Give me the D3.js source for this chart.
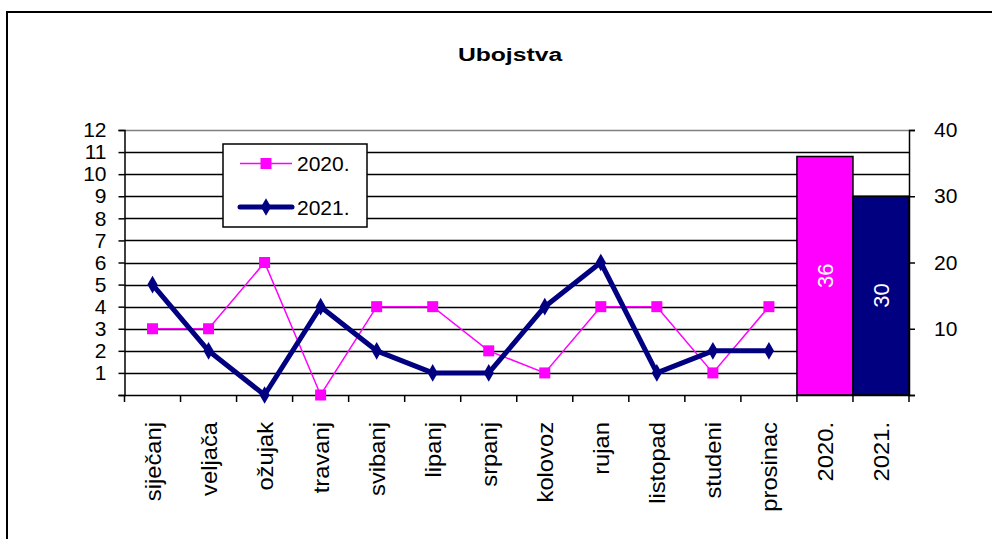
<!DOCTYPE html>
<html><head><meta charset="utf-8">
<script src="https://cdn.jsdelivr.net/npm/d3@7"></script>
<style>body{margin:0;background:#fff}svg{display:block}text{font-family:"Liberation Sans",Arial,sans-serif}</style>
</head><body>
<script>
const months = ["siječanj","veljača","ožujak","travanj","svibanj","lipanj","srpanj","kolovoz","rujan","listopad","studeni","prosinac"];
const yearCats = ["2020.","2021."];
const series2020 = [3,3,6,0,4,4,2,1,4,4,1,4];
const series2021 = [5,2,0,4,2,1,1,4,6,1,2,2];
const totals = [36,30];
const leftTicks = [1,2,3,4,5,6,7,8,9,10,11,12];
const rightTicks = [10,20,30,40];
const colors = {"2020.":"#FF00FF","2021.":"#000080"};

const W=992,H=539;
const svg=d3.select("body").append("svg").attr("width",W).attr("height",H);
svg.append("rect").attr("x",7).attr("y",12).attr("width",1000).attr("height",600)
  .attr("fill","#fff").attr("stroke","#000").attr("stroke-width",2);

svg.append("text").attr("transform","translate(510,61) scale(1.3,1)").attr("text-anchor","middle")
  .attr("font-weight","bold").attr("font-size",19).text("Ubojstva");

const L=124.5,R=909,T=130,B=395;
const x=d3.scaleBand().domain(months.concat(yearCats)).range([L,R]).padding(0);
const y=d3.scaleLinear().domain([0,12]).range([B,T]);
const y2=d3.scaleLinear().domain([0,40]).range([B,T]);

// gridlines
svg.append("g").selectAll("line").data(leftTicks).join("line")
  .attr("x1",L).attr("x2",R).attr("y1",d=>Math.round(y(d))+0.5).attr("y2",d=>Math.round(y(d))+0.5)
  .attr("stroke",d=>d===12?"#808080":"#000").attr("stroke-width",1.3);

// bars
const bars=svg.append("g");
yearCats.forEach((c,i)=>{
  bars.append("rect").attr("x",x(c)).attr("y",y2(totals[i])).attr("width",x.bandwidth())
    .attr("height",B-y2(totals[i])).attr("fill",colors[c]).attr("stroke","#000").attr("stroke-width",1.5);
  const cx=x(c)+x.bandwidth()/2, cy=(y2(totals[i])+B)/2;
  bars.append("text").attr("transform",`translate(${cx+8},${cy}) rotate(-90)`)
    .attr("text-anchor","middle").attr("fill","#fff").attr("font-size",22).text(totals[i]);
});

// left axis
const gl=svg.append("g").attr("transform",`translate(${L},0)`)
  .call(d3.axisLeft(y).tickValues([0].concat(leftTicks)).tickFormat(d=>d===0?"":d).tickSize(6).tickPadding(16));
// right axis
const gr=svg.append("g").attr("transform",`translate(${R},0)`)
  .call(d3.axisRight(y2).tickValues([0].concat(rightTicks)).tickFormat(d=>d===0?"":d).tickSize(6).tickPadding(19));
// bottom axis
const gb=svg.append("g").attr("transform",`translate(0,${B})`)
  .call(d3.axisBottom(x).tickValues([]).tickSize(0));
gb.selectAll(".tick-b").data(d3.range(15)).join("line")
  .attr("x1",i=>L+i*x.bandwidth()).attr("x2",i=>L+i*x.bandwidth()).attr("y1",0).attr("y2",7)
  .attr("stroke","#000").attr("stroke-width",1.5);
gb.selectAll(".lab").data(months.concat(yearCats)).join("text")
  .attr("transform",d=>`translate(${x(d)+x.bandwidth()/2+8},27) rotate(-90) scale(1.08,1)`)
  .attr("text-anchor","end").attr("font-size",22).attr("fill","#000").text(d=>d);

[gl,gr,gb].forEach(g=>{
  g.selectAll(".domain").attr("stroke","#000").attr("stroke-width",1.5);
  g.selectAll(".tick line").attr("stroke","#000").attr("stroke-width",1.5);
  g.selectAll(".tick text").attr("font-size",21).attr("fill","#000").attr("font-family","Liberation Sans,Arial,sans-serif");
});
gl.selectAll(".tick text").attr("dx",4);

// lines
const line=d3.line().x((d,i)=>x(months[i])+x.bandwidth()/2).y(d=>y(d));
svg.append("path").datum(series2020).attr("d",line).attr("fill","none").attr("stroke",colors["2020."]).attr("stroke-width",1.5);
svg.append("path").datum(series2021).attr("d",line).attr("fill","none").attr("stroke",colors["2021."]).attr("stroke-width",5).attr("stroke-linejoin","round");
svg.append("g").selectAll("rect").data(series2020).join("rect")
  .attr("x",(d,i)=>x(months[i])+x.bandwidth()/2-5.5).attr("y",d=>y(d)-5.5).attr("width",11).attr("height",11)
  .attr("fill",colors["2020."]);
const dsym=d3.symbol().type(d3.symbolDiamond).size(90);
svg.append("g").selectAll("path").data(series2021).join("path")
  .attr("transform",(d,i)=>`translate(${x(months[i])+x.bandwidth()/2},${y(d)})`)
  .attr("d",dsym).attr("fill",colors["2021."]);

// legend
const lg=svg.append("g");
lg.append("rect").attr("x",223).attr("y",144).attr("width",144).attr("height",83)
  .attr("fill","#fff").attr("stroke","#000").attr("stroke-width",1.5);
const legItems=[{k:"2020.",y:163.5,w:1.5},{k:"2021.",y:207,w:5}];
legItems.forEach(it=>{
  lg.append("line").attr("x1",240).attr("x2",292).attr("y1",it.y).attr("y2",it.y)
    .attr("stroke",colors[it.k]).attr("stroke-width",it.w).attr("stroke-linecap",it.w>2?"round":"butt");
  if(it.k==="2020.") lg.append("rect").attr("x",260.5).attr("y",it.y-5.5).attr("width",11).attr("height",11).attr("fill",colors[it.k]);
  else lg.append("path").attr("transform",`translate(266,${it.y})`).attr("d",dsym).attr("fill",colors[it.k]);
  lg.append("text").attr("x",297).attr("y",it.y+7.5).attr("font-size",21).text(it.k);
});
</script>
</body></html>
